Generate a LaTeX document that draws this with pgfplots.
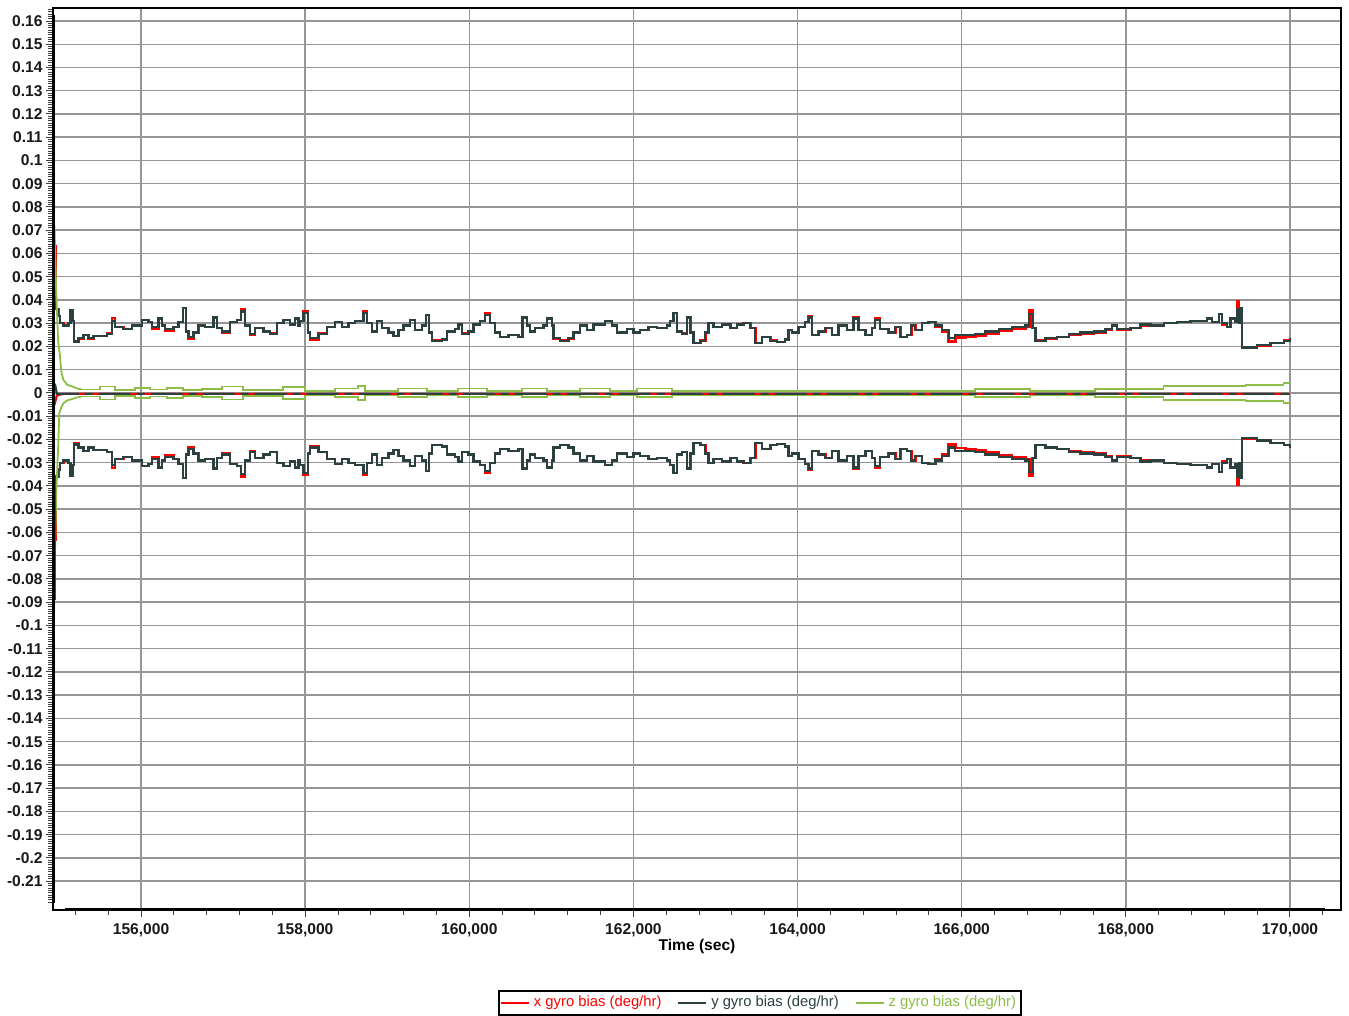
\documentclass[border=0pt]{standalone}
\usepackage{fontspec}
\setmainfont{Liberation Sans}
\usepackage{pgfplots}
\usepackage{pgfplotstable}
\pgfplotsset{compat=1.18}

\definecolor{xred}{RGB}{255,0,0}
\definecolor{yslate}{RGB}{44,64,64}
\definecolor{zgreen}{RGB}{140,190,70}
\definecolor{gridgray}{RGB}{150,150,150}

% upper 1-sigma of x/y gyro bias (lower one is the mirror image)
\pgfplotstableread{
t d r
154945 0.0400 0.0630
154965 0.0360 0.0360
154992 0.0330 0.0330
155013 0.0300 0.0300
155053 0.0290 0.0290
155114 0.0300 0.0300
155142 0.0355 0.0355
155167 0.0310 0.0310
155183 0.0222 0.0218
155236 0.0235 0.0235
155297 0.0250 0.0250
155358 0.0235 0.0235
155419 0.0245 0.0245
155500 0.0245 0.0245
155582 0.0255 0.0255
155643 0.0310 0.0322
155683 0.0285 0.0285
155784 0.0275 0.0275
155887 0.0290 0.0290
156008 0.0315 0.0315
156089 0.0305 0.0305
156130 0.0285 0.0275
156211 0.0320 0.0320
156252 0.0290 0.0290
156293 0.0275 0.0268
156394 0.0285 0.0285
156455 0.0305 0.0305
156508 0.0365 0.0365
156549 0.0265 0.0265
156577 0.0240 0.0235
156638 0.0260 0.0260
156698 0.0290 0.0290
156780 0.0285 0.0285
156881 0.0325 0.0325
156923 0.0280 0.0280
156984 0.0265 0.0260
157085 0.0305 0.0305
157167 0.0315 0.0315
157219 0.0350 0.0360
157268 0.0290 0.0290
157329 0.0255 0.0250
157390 0.0280 0.0280
157491 0.0265 0.0265
157573 0.0255 0.0255
157654 0.0300 0.0300
157735 0.0315 0.0315
157816 0.0295 0.0295
157877 0.0320 0.0320
157917 0.0290 0.0290
157938 0.0310 0.0310
157978 0.0345 0.0350
158032 0.0260 0.0260
158060 0.0235 0.0230
158161 0.0255 0.0255
158263 0.0285 0.0285
158365 0.0305 0.0305
158447 0.0285 0.0285
158528 0.0300 0.0300
158609 0.0310 0.0310
158710 0.0345 0.0350
158751 0.0300 0.0300
158812 0.0265 0.0265
158873 0.0310 0.0310
158934 0.0280 0.0280
159015 0.0260 0.0260
159076 0.0245 0.0245
159137 0.0270 0.0270
159198 0.0290 0.0290
159279 0.0315 0.0315
159340 0.0270 0.0270
159422 0.0290 0.0290
159470 0.0335 0.0335
159511 0.0260 0.0260
159543 0.0225 0.0225
159665 0.0230 0.0230
159726 0.0265 0.0265
159828 0.0275 0.0275
159868 0.0295 0.0295
159909 0.0255 0.0255
159990 0.0265 0.0265
160051 0.0295 0.0295
160132 0.0310 0.0310
160193 0.0335 0.0345
160254 0.0300 0.0300
160315 0.0260 0.0260
160376 0.0240 0.0240
160478 0.0250 0.0250
160600 0.0240 0.0240
160648 0.0325 0.0325
160702 0.0290 0.0290
160742 0.0265 0.0265
160803 0.0280 0.0280
160904 0.0290 0.0290
160945 0.0320 0.0320
161006 0.0290 0.0290
161027 0.0235 0.0235
161108 0.0225 0.0225
161209 0.0235 0.0235
161270 0.0260 0.0260
161352 0.0290 0.0290
161433 0.0270 0.0270
161514 0.0295 0.0295
161656 0.0310 0.0310
161738 0.0290 0.0290
161799 0.0260 0.0260
161921 0.0275 0.0275
162002 0.0260 0.0260
162083 0.0270 0.0270
162185 0.0285 0.0285
162286 0.0280 0.0280
162408 0.0290 0.0290
162449 0.0310 0.0310
162489 0.0345 0.0345
162530 0.0265 0.0265
162591 0.0255 0.0255
162652 0.0325 0.0325
162693 0.0260 0.0260
162733 0.0215 0.0215
162815 0.0225 0.0225
162876 0.0260 0.0260
162916 0.0300 0.0300
162977 0.0285 0.0285
163079 0.0295 0.0295
163181 0.0280 0.0280
163262 0.0295 0.0295
163343 0.0300 0.0300
163424 0.0280 0.0280
163485 0.0215 0.0215
163566 0.0240 0.0240
163668 0.0225 0.0225
163749 0.0220 0.0220
163850 0.0230 0.0230
163891 0.0270 0.0270
163932 0.0260 0.0260
164013 0.0285 0.0285
164094 0.0305 0.0305
164135 0.0325 0.0330
164176 0.0250 0.0250
164257 0.0265 0.0265
164338 0.0280 0.0280
164419 0.0250 0.0250
164500 0.0290 0.0290
164602 0.0270 0.0270
164683 0.0320 0.0325
164744 0.0270 0.0270
164826 0.0250 0.0250
164907 0.0280 0.0280
164947 0.0315 0.0320
165008 0.0275 0.0275
165110 0.0260 0.0260
165191 0.0285 0.0285
165252 0.0240 0.0240
165333 0.0250 0.0250
165386 0.0290 0.0290
165435 0.0270 0.0270
165516 0.0300 0.0300
165597 0.0305 0.0305
165679 0.0290 0.0285
165760 0.0270 0.0262
165841 0.0235 0.0222
165922 0.0250 0.0238
166044 0.0250 0.0240
166166 0.0255 0.0246
166288 0.0265 0.0256
166451 0.0275 0.0266
166613 0.0285 0.0278
166776 0.0290 0.0285
166824 0.0340 0.0355
166865 0.0280 0.0280
166898 0.0225 0.0225
167020 0.0235 0.0235
167162 0.0240 0.0240
167304 0.0255 0.0250
167446 0.0260 0.0255
167609 0.0265 0.0260
167751 0.0275 0.0270
167833 0.0290 0.0290
167893 0.0275 0.0270
168056 0.0280 0.0280
168178 0.0295 0.0290
168300 0.0290 0.0290
168462 0.0300 0.0300
168625 0.0305 0.0305
168787 0.0310 0.0310
168950 0.0310 0.0310
168990 0.0320 0.0320
169051 0.0305 0.0305
169133 0.0340 0.0340
169173 0.0300 0.0295
169234 0.0285 0.0285
169275 0.0320 0.0320
169336 0.0305 0.0305
169356 0.0360 0.0395
169377 0.0300 0.0300
169397 0.0365 0.0300
169417 0.0195 0.0195
169478 0.0195 0.0195
169600 0.0205 0.0205
169763 0.0215 0.0215
169925 0.0225 0.0225
170000 0.0235 0.0235
}\biasdata

% z gyro bias half-width (steps)
\pgfplotstableread{
t g
155230 0.0018
155256 0.0015
155500 0.0028
155683 0.0012
155927 0.0022
156110 0.0015
156317 0.0022
156512 0.0012
156744 0.0018
156987 0.0028
157243 0.0012
157731 0.0025
157999 0.0009
158365 0.0019
158645 0.0030
158731 0.0009
159133 0.0019
159486 0.0009
159864 0.0019
160218 0.0009
160644 0.0019
160949 0.0009
161351 0.0019
161717 0.0009
162046 0.0019
162473 0.0009
166166 0.0018
166837 0.0010
167629 0.0017
168458 0.0029
169458 0.0034
169921 0.0042
170000 0.0042
}\zdata

\begin{document}
\begin{tikzpicture}
\begin{axis}[
    scale only axis,
    width=644pt, height=451pt,
    xmin=154927, xmax=170622,
    ymin=-0.2224, ymax=0.1656,
    xtick={156000,158000,...,170000},
    minor xtick={155200,155600,...,170400},
    ytick={-0.21,-0.2,-0.19,-0.18,-0.17,-0.16,-0.15,-0.14,-0.13,-0.12,-0.11,-0.1,-0.09,-0.08,-0.07,-0.06,-0.05,-0.04,-0.03,-0.02,-0.01,0,0.01,0.02,0.03,0.04,0.05,0.06,0.07,0.08,0.09,0.1,0.11,0.12,0.13,0.14,0.15,0.16},
    minor ytick={-0.219,-0.218,...,0.165},
    scaled x ticks=false, scaled y ticks=false,
    xticklabel style={/pgf/number format/.cd, fixed, 1000 sep={,}},
    yticklabel style={inner xsep=1.5pt, /pgf/number format/.cd, fixed, precision=2},
    /pgf/number format/assume math mode=true,
    tick label style={font=\fontsize{7.8}{8}\selectfont\bfseries, text=black!90},
    tick align=outside,
    xtick pos=left, ytick pos=left,
    major tick length=3.5pt, minor tick length=2.5pt,
    tick style={black!75, line width=0.5pt},
    grid=major,
    major grid style={gridgray, line width=0.75pt},
    axis line style={black, line width=0.7pt},
    xlabel={Time (sec)},
    xlabel style={at={(axis description cs:0.5,0)}, anchor=center, yshift=-18pt,
        font=\fontsize{7.8}{8}\selectfont\bfseries},
    legend columns=3,
    legend style={at={(0.549,0)}, anchor=center, yshift=-46.5pt,
        draw=black, line width=0.8pt, inner sep=0.6pt,
        font=\fontsize{7.4}{8}\selectfont,
        /tikz/every even column/.append style={column sep=6pt}},
    legend image code/.code={\draw[#1, line width=0.9pt] (0pt,0pt) -- (14pt,0pt);},
    no marks,
]
\addplot[xred, line width=1.2pt, const plot] table[x=t, y=r] {\biasdata};
\addlegendentry{\textcolor{xred}{x gyro bias (deg/hr)}}
\addplot[yslate, line width=1.15pt, const plot] table[x=t, y=d] {\biasdata};
\addlegendentry{\textcolor{yslate}{y gyro bias (deg/hr)}}
\addplot[zgreen, line width=0.9pt, const plot] table[x=t, y=g] {\zdata};
\addlegendentry{\textcolor{zgreen}{z gyro bias (deg/hr)}}

% lower bands
\addplot[xred, line width=1.2pt, const plot, forget plot] table[x=t, y expr=-\thisrow{r}] {\biasdata};
\addplot[yslate, line width=1.15pt, const plot, forget plot] table[x=t, y expr=-\thisrow{d}] {\biasdata};
\addplot[zgreen, line width=0.9pt, const plot, forget plot] table[x=t, y expr=-\thisrow{g}] {\zdata};
% start-up transients
\addplot[zgreen, line width=0.9pt, forget plot] coordinates {
 (154945,0.072) (154965,0.045) (154990,0.022) (155004,0.0185) (155030,0.009)
 (155053,0.0057) (155100,0.0035) (155171,0.0027) (155230,0.0018)};
\addplot[zgreen, line width=0.9pt, forget plot] coordinates {
 (154945,-0.080) (154965,-0.045) (154990,-0.023) (155004,-0.0086) (155030,-0.006)
 (155053,-0.0045) (155100,-0.0032) (155171,-0.0025) (155230,-0.0018)};
\addplot[xred, line width=1.2pt, forget plot] coordinates {(154945,-0.089) (154945,-0.040)};
% estimates near zero
\addplot[xred, line width=1.1pt, forget plot] coordinates {
 (154945,-0.005) (154975,-0.001) (155050,-0.0004) (170000,-0.0004)};
\addplot[yslate, line width=1.1pt, forget plot, dash pattern=on 16pt off 3pt on 4pt off 3pt] coordinates {
 (154950,0.004) (154975,-0.0004) (170000,-0.0004)};
\end{axis}
\draw[line width=1.5pt] ([shift={(0.3pt,3.5pt)}]current axis.south west) -- ([shift={(0.3pt,-3.5pt)}]current axis.north west);
\draw[line width=1.5pt] ([xshift=6pt]current axis.south west) -- ([xshift=-8pt]current axis.south east);
\path ([shift={(-26.5pt,-51pt)}]current axis.south west) rectangle ([shift={(4pt,4pt)}]current axis.north east);
\end{tikzpicture}
\end{document}
